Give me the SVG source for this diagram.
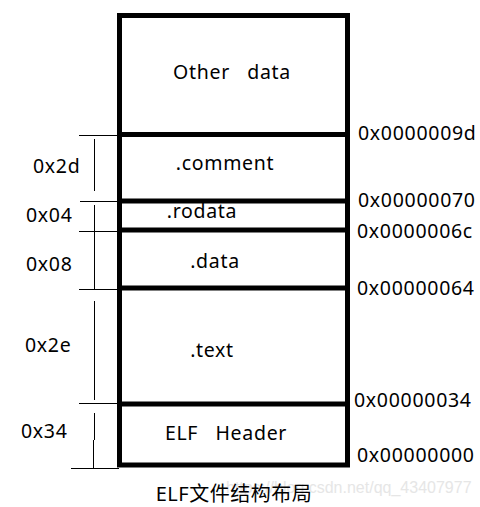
<svg xmlns="http://www.w3.org/2000/svg" width="480" height="507" viewBox="0 0 480 507">
<style>
.t{font-family:"Noto Sans","Noto Sans CJK SC",sans-serif;font-size:19.5px;fill:#000;letter-spacing:0.7px}
.c{text-anchor:middle}
.box{fill:none;stroke:#000;stroke-width:5}
.thin{stroke:#000;stroke-width:1;fill:none}
.wm{font-family:"Liberation Sans",sans-serif;font-size:16px;fill:#e6e6e6}
</style>
<rect width="480" height="507" fill="#fff"/>
<text class="wm" x="226" y="493">https://blog.csdn.net/qq_43407977</text>
<g id="connectors">
<path class="thin" d="M79 135.5H118 M80 201.5H118 M79 231.5H118 M79 289.5H118 M79 403.5H118 M71 468.5H119"/>
<path class="thin" d="M94.5 139V191 M94.5 205V290 M94.5 301V400 M94.5 413V440 M93.5 440V468"/>
</g>
<g id="layout">
<rect class="box" x="119.5" y="15.5" width="228" height="449.5"/>
<path class="box" d="M119.5 134.5H347.5 M119.5 201H347.5 M119.5 230H347.5 M119.5 288H347.5 M119.5 404H347.5"/>
</g>
<g id="other"><text class="t c" x="232" y="79" xml:space="preserve">Other   data</text></g>
<g id="comment"><text class="t c" x="225" y="170">.comment</text></g>
<g id="rodata"><text class="t c" x="202" y="218">.rodata</text></g>
<g id="data"><text class="t c" x="215" y="268">.data</text></g>
<g id="text"><text class="t c" x="212" y="357">.text</text></g>
<g id="header"><text class="t c" x="226" y="440" xml:space="preserve">ELF   Header</text></g>
<g id="sizes">
<text class="t" x="33" y="173">0x2d</text>
<text class="t" x="26" y="222">0x04</text>
<text class="t" x="26" y="271">0x08</text>
<text class="t" x="25" y="352">0x2e</text>
<text class="t" x="21" y="438">0x34</text>
</g>
<g id="addresses">
<text class="t" x="358" y="140">0x0000009d</text>
<text class="t" x="358" y="207">0x00000070</text>
<text class="t" x="357" y="238">0x0000006c</text>
<text class="t" x="357" y="295">0x00000064</text>
<text class="t" x="354" y="407">0x00000034</text>
<text class="t" x="357" y="462">0x00000000</text>
</g>
<g id="caption"><text class="t c" x="234" y="501" style="font-size:20px;letter-spacing:0.5px">ELF文件结构布局</text></g>
</svg>
